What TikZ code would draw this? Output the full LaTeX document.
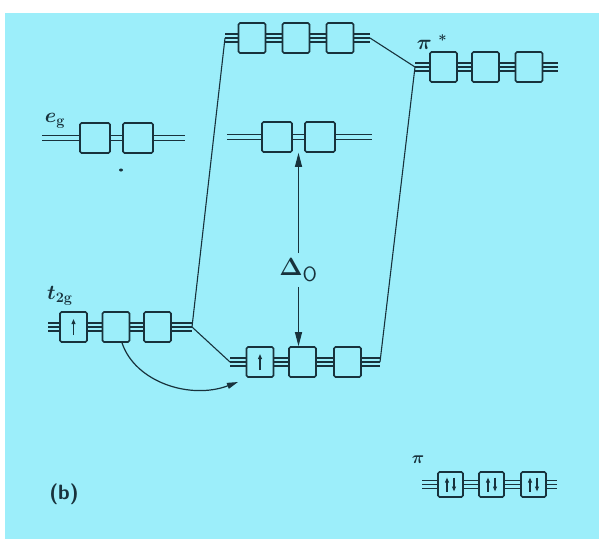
\documentclass[tikz,border=0pt]{standalone}
\usepackage{amsmath,amssymb}
\usepackage{tikz}
\usetikzlibrary{arrows.meta,positioning,calc}
\definecolor{bgcyan}{RGB}{156,238,250}
\definecolor{inkclr}{RGB}{24,50,60}
\tikzset{
  orb/.style={draw=inkclr, line width=1.6pt, rounded corners=1.5pt,
    minimum width=27pt, minimum height=30pt, inner sep=0pt},
  egorb/.style={orb, minimum width=30pt},
  piorb/.style={orb, minimum width=25pt, minimum height=25pt},
  stubln/.style={line width=1.6pt, inkclr},
  linkln/.style={line width=1.1pt, inkclr},
  gapln/.style={line width=1.1pt, inkclr, -{Triangle[length=14pt,width=7pt]}},
  curvln/.style={line width=1.2pt, inkclr, -{Triangle[length=11pt,width=6pt]}},
  spinln/.style={line width=1.3pt, inkclr, -{Triangle[length=5pt,width=3.8pt]}},
  lbl/.style={inkclr, font=\huge\boldmath, inner sep=1pt},
}
\newcommand{\tripl}[2]{%
  \foreach \dy in {-4,0,4}
    \draw[stubln] ($(#1)+(0,\dy)$) -- ($(#2)+(0,\dy)$);
}
\newcommand{\dubl}[2]{%
  \foreach \dy in {-2.4,2.4}
    \draw[stubln] ($(#1)+(0,\dy)$) -- ($(#2)+(0,\dy)$);
}

\begin{document}
\begin{tikzpicture}[x=1pt,y=-1pt]
    % Frame
    \useasboundingbox (0,0) rectangle (599,539);
    \fill[white] (0,0) rectangle (599,539);
    \fill[bgcyan] (5,13) rectangle (599,539);
    % Upper level (antibonding)
    \node[orb] (u1) at (252,38) {};
    \node[orb] (u2) at (296,38) {};
    \node[orb] (u3) at (340,38) {};
    \coordinate (u0) at (225,38);
    \coordinate (u4) at (370,38);
    \tripl{u0}{u1.west} \tripl{u1.east}{u2.west}
    \tripl{u2.east}{u3.west} \tripl{u3.east}{u4}
    % pi* level
    \node[orb] (s1) at (443.5,67) {};
    \node[orb] (s2) at (485.5,67) {};
    \node[orb] (s3) at (529,67) {};
    \coordinate (s0) at (415,67);
    \coordinate (s4) at (558,67);
    \tripl{s0}{s1.west} \tripl{s1.east}{s2.west}
    \tripl{s2.east}{s3.west} \tripl{s3.east}{s4}
    \node[lbl, font=\huge\boldmath] (pistar) at (432,42) {$\pi\;{}^{*}$};
    % e_g, metal
    \node[egorb] (el1) at (95,138) {};
    \node[egorb] (el2) at (138,138) {};
    \coordinate (el0) at (42,138);
    \coordinate (el3) at (185,138);
    \dubl{el0}{el1.west} \dubl{el1.east}{el2.west} \dubl{el2.east}{el3}
    \node[lbl] (eglab) at (55,121) {$e_{\mathbf{g}}$};
    \fill[inkclr] (121,170) ellipse (2 and 1.5);
    % e_g, complex
    \node[egorb] (em1) at (277,137) {};
    \node[egorb] (em2) at (320,137) {};
    \coordinate (em0) at (227,137);
    \coordinate (em3) at (372,137);
    \dubl{em0}{em1.west} \dubl{em1.east}{em2.west} \dubl{em2.east}{em3}
    % t_2g, metal
    \node[orb] (t1) at (73.5,327) {};
    \node[orb] (t2) at (116,327) {};
    \node[orb] (t3) at (157.5,327) {};
    \coordinate (t0) at (48,327);
    \coordinate (t4) at (192,327);
    \tripl{t0}{t1.west} \tripl{t1.east}{t2.west}
    \tripl{t2.east}{t3.west} \tripl{t3.east}{t4}
    \node[lbl] (t2glab) at (60,296) {$t_{\mathbf{2g}}$};
    \draw[spinln] ([yshift=-8pt]t1.center) -- ([yshift=8pt]t1.center);
    % Lower level (bonding)
    \node[orb] (l1) at (260,362) {};
    \node[orb] (l2) at (302.5,362) {};
    \node[orb] (l3) at (347.5,362) {};
    \coordinate (l0) at (230,362);
    \coordinate (l4) at (380,362);
    \tripl{l0}{l1.west} \tripl{l1.east}{l2.west}
    \tripl{l2.east}{l3.west} \tripl{l3.east}{l4}
    \draw[spinln] ([yshift=-8pt]l1.center) -- ([yshift=8pt]l1.center);
    % Correlation lines
    \draw[linkln] (t4) -- (u0);
    \draw[linkln] (t4) -- (l0);
    \draw[linkln] (u4) -- (s0);
    \draw[linkln] (l4) -- (s0);
    % Splitting Delta_O
    \coordinate (dtop) at ($(em1.south east)!0.5!(em2.south west)$);
    \node[lbl, inner sep=5pt, font=\Huge\sffamily] (dlt) at (dtop |- 0,270)
      {$\boldsymbol{\Delta}$\textsubscript{O}};
    \coordinate (dbot) at (dtop |- l2.north);
    \draw[gapln] (dlt) -- (dtop);
    \draw[gapln] (dlt) -- (dbot);
    % Electron moves down
    \coordinate (cend) at (238,382);
    \draw[curvln] ([xshift=6pt]t2.south) .. controls (135,382) and (190,400) .. (cend);
    % pi level, filled
    \node[piorb] (p1) at (450.5,484.5) {};
    \node[piorb] (p2) at (491.5,484.5) {};
    \node[piorb] (p3) at (533.5,484.5) {};
    \coordinate (p0) at (422,484.5);
    \coordinate (p4) at (557,484.5);
    \tripl{p0}{p1.west} \tripl{p1.east}{p2.west}
    \tripl{p2.east}{p3.west} \tripl{p3.east}{p4}
    \foreach \b in {p1,p2,p3} {
      \draw[spinln] ([xshift=-3.5pt,yshift=-7pt]\b.center) -- ([xshift=-3.5pt,yshift=7pt]\b.center);
      \draw[spinln] ([xshift=3.5pt,yshift=7pt]\b.center) -- ([xshift=3.5pt,yshift=-7pt]\b.center);
    }
    \node[lbl, font=\LARGE\boldmath] (pilab) at (418,460) {$\pi$};
    % Panel tag
    \node[lbl, font=\huge\sffamily\bfseries] (tag) at (64,494) {(b)};
  \end{tikzpicture}
\end{document}
